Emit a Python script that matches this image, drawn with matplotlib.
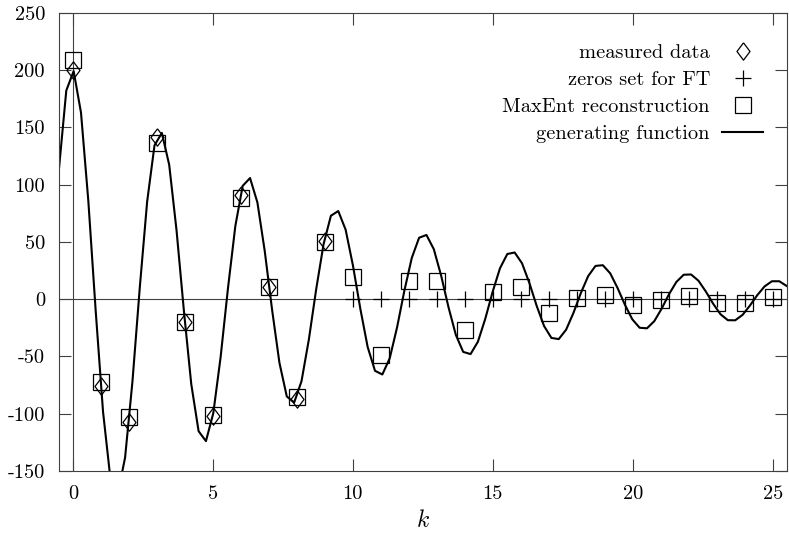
import matplotlib
matplotlib.use("Agg")
import matplotlib.pyplot as plt
import numpy as np

plt.rcParams["font.family"] = ["cmr10", "DejaVu Serif"]
plt.rcParams["mathtext.fontset"] = "cm"
plt.rcParams["axes.unicode_minus"] = False
plt.rcParams["axes.formatter.use_mathtext"] = False

# measured data (k = 0..9)
k_meas = [0, 1, 2, 3, 4, 5, 6, 7, 8, 9]
y_meas = [200, -76, -107, 142, -20, -102, 91, 11, -87, 51]

# zeros set for FT (k = 10..25)
k_zero = [10, 11, 12, 13, 14, 15, 16, 17, 18, 19, 20, 21, 22, 23, 24, 25]
y_zero = [0] * len(k_zero)

# MaxEnt reconstruction (k = 0..25)
k_rec = list(range(26))
y_rec = [209, -72, -103, 136, -20, -101, 88, 11, -85, 50,
         19, -49, 16, 16, -27, 6, 11, -12, 1, 4,
         -5, -1, 3, -3, -3, 2]

# generating function, 100 samples
k_gen = np.linspace(-0.5, 25.5, 100)
y_gen = [113.6, 182.2, 199.2, 163.0, 85.7, -10.2, -98.3, -156.4, -170.1, -138.2,
         -71.9, 10.3, 85.2, 134.3, 145.2, 117.4, 60.1, -10.1, -74.0, -115.2,
         -123.9, -99.5, -50.3, 9.8, 64.0, 99.0, 105.8, 84.5, 42.0, -9.3,
         -55.6, -84.9, -90.2, -71.6, -35.2, 8.8, 48.0, 72.9, 77.0, 60.8,
         29.4, -8.2, -41.7, -62.5, -65.7, -51.6, -24.6, 7.6, 36.0, 53.7,
         56.1, 43.7, 20.5, -7.0, -31.2, -46.0, -47.9, -37.1, -17.1, 6.4,
         27.0, 39.5, 40.8, 31.4, 14.2, -5.9, -23.4, -33.8, -34.8, -26.6,
         -11.9, 5.3, 20.2, 29.1, 29.7, 22.6, 9.8, -4.8, -17.5, -24.9,
         -25.4, -19.1, -8.2, 4.4, 15.1, 21.4, 21.6, 16.2, 6.8, -3.9,
         -13.1, -18.3, -18.4, -13.7, -5.6, 3.5, 11.2, 15.7, 15.7, 11.6]

diamond = [(0, 1), (0.75, 0), (0, -1), (-0.75, 0), (0, 1)]
axis_col = "#404040"
fs = 14.7

fig = plt.figure(figsize=(7.89, 5.38), dpi=100)
ax = fig.add_axes([0.0747, 0.1245, 0.997 - 0.0747, 0.976 - 0.1245])

ax.axhline(0, color=axis_col, lw=0.8, zorder=1)
ax.axvline(0, color=axis_col, lw=0.8, zorder=1)

h1, = ax.plot(k_meas, y_meas, ls="none", marker=diamond, ms=12.5, mfc="none",
              mec="black", mew=0.9, label="measured data")
h2, = ax.plot(k_zero, y_zero, ls="none", marker="+", ms=11, mec="black",
              mew=0.9, label="zeros set for FT")
h3, = ax.plot(k_rec, y_rec, ls="none", marker="s", ms=11, mfc="none",
              mec="black", mew=0.9, label="MaxEnt reconstruction")
h4, = ax.plot(k_gen, y_gen, color="black", lw=1.5, label="generating function")

ax.set_xlim(-0.5, 25.5)
ax.set_ylim(-150, 250)
ax.set_xticks([0, 5, 10, 15, 20, 25])
ax.set_yticks(range(-150, 251, 50))
ax.tick_params(direction="in", length=8.6, width=0.8, color=axis_col,
               top=True, right=True, labelsize=fs, pad=10)
for s in ax.spines.values():
    s.set_color(axis_col)
    s.set_linewidth(0.8)
ax.set_xlabel("$k$", fontsize=17, labelpad=5)

ax.legend(handles=[h1, h2, h3, h4], loc="upper right", markerfirst=False,
          frameon=False, fontsize=fs, handlelength=2.0, handletextpad=0.6,
          labelspacing=0.42, borderpad=0, borderaxespad=0,
          bbox_to_anchor=(763 / 789, 1 - 44 / 538), bbox_transform=fig.transFigure)

fig.savefig("out.png", dpi=100)
